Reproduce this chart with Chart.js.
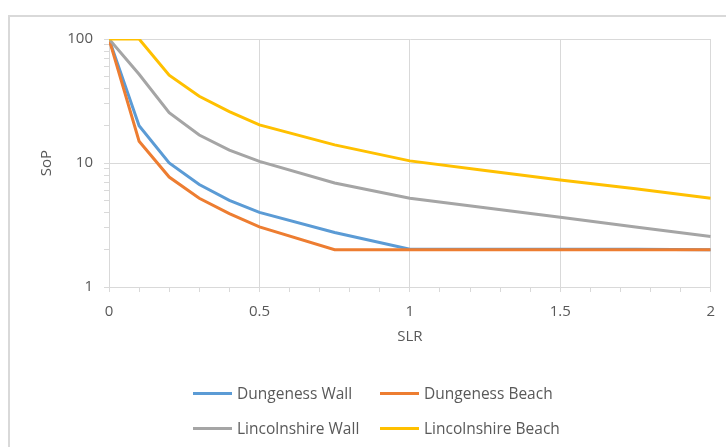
<!DOCTYPE html>
<html>
<head>
<meta charset="utf-8">
<script src="https://cdn.jsdelivr.net/npm/chart.js@4/dist/chart.umd.min.js"></script>
<style>
  body { margin: 0; background: #fff; font-family: "Open Sans", sans-serif; }
  #wrap { position: relative; width: 726px; height: 447px; overflow: hidden; }
  #frame { position: absolute; left: 8px; top: 15px; width: 740px; height: 460px; border: 2px solid #d9d9d9; box-sizing: border-box; }
  #chart { position: absolute; left: 0; top: 0; }
  #legend { position: absolute; left: 0; top: 0; width: 726px; height: 447px; pointer-events: none; }
  .item { position: absolute; display: flex; align-items: center; font-size: 15.5px; color: #595959; white-space: nowrap; }
  .item span.sw { display: inline-block; width: 39px; height: 3px; margin-right: 5px; }
</style>
</head>
<body>
<div id="wrap">
  <div id="frame"></div>
  <canvas id="chart" width="726" height="447"></canvas>
  <div id="legend"></div>
</div>
<script>
// SLR values (x)
const slr = [0, 0.1, 0.2, 0.3, 0.4, 0.5, 0.75, 1, 1.25, 1.5, 1.75, 2];

// SoP series (log scale)
const dungenessWall = [100, 20, 10, 6.7, 5, 4, 2.75, 2.02, 2.02, 2.02, 2.02, 2];
const dungenessBeach = [100, 15, 7.7, 5.2, 3.9, 3.05, 2, 2, 2, 2, 2, 2];
const lincolnshireWall = [100, 52, 25.5, 16.8, 12.7, 10.3, 6.9, 5.2, 4.35, 3.65, 3.05, 2.55];
const lincolnshireBeach = [100, 100, 51, 34.5, 26, 20.3, 14, 10.4, 8.7, 7.3, 6.2, 5.2];

const seriesNames = ['Dungeness Wall', 'Dungeness Beach', 'Lincolnshire Wall', 'Lincolnshire Beach'];
const seriesColors = ['#5b9bd5', '#ed7d31', '#a5a5a5', '#ffc000'];
const seriesValues = [dungenessWall, dungenessBeach, lincolnshireWall, lincolnshireBeach];

const yMajorTicks = [1, 10, 100];
const xMajorTicks = [0, 0.5, 1, 1.5, 2];

const gridColor = '#d9d9d9';
const textColor = '#595959';

const isMajorX = v => xMajorTicks.some(t => Math.abs(t - v) < 1e-6);
const isMajorY = v => yMajorTicks.some(t => Math.abs(t - v) < 1e-6);

// later series drawn on top, like Excel
const datasets = seriesNames.map((name, i) => ({
  label: name,
  data: slr.map((x, j) => ({ x, y: seriesValues[i][j] })),
  borderColor: seriesColors[i],
  backgroundColor: seriesColors[i],
  borderWidth: 3,
  pointRadius: 0,
  tension: 0,
  showLine: true,
  fill: false,
  order: seriesNames.length - i
}));

const chart = new Chart(document.getElementById('chart'), {
  type: 'scatter',
  data: { datasets },
  options: {
    responsive: false,
    animation: false,
    layout: { padding: { left: 0, right: 14, top: 39, bottom: 95 } },
    plugins: {
      legend: { display: false },
      tooltip: { enabled: false }
    },
    scales: {
      x: {
        type: 'linear',
        min: 0,
        max: 2,
        afterFit: s => { s.height = 447 - 287 - 95; },
        afterBuildTicks: s => {
          s.ticks = [];
          for (let k = 0; k <= 20; k++) s.ticks.push({ value: k / 10 });
        },
        ticks: {
          autoSkip: false,
          maxRotation: 0,
          color: textColor,
          font: { family: 'Open Sans', size: 15 },
          padding: 11,
          callback: v => (isMajorX(v) ? String(Math.round(v * 10) / 10) : '')
        },
        grid: {
          color: ctx => (ctx.tick && isMajorX(ctx.tick.value) ? gridColor : 'rgba(0,0,0,0)'),
          tickColor: gridColor,
          tickLength: 5,
          lineWidth: 1
        },
        border: { color: gridColor, width: 1 },
        title: {
          display: true,
          text: 'SLR',
          color: textColor,
          font: { family: 'Open Sans', size: 15 },
          padding: { top: 4, bottom: 6 }
        }
      },
      y: {
        type: 'logarithmic',
        min: 1,
        max: 100,
        afterFit: s => { s.width = 109; },
        afterBuildTicks: s => {
          s.ticks = [];
          for (let d = 1; d <= 10; d *= 10) {
            for (let m = 1; m < 10; m++) s.ticks.push({ value: d * m });
          }
          s.ticks.push({ value: 100 });
        },
        ticks: {
          autoSkip: false,
          color: textColor,
          font: { family: 'Open Sans', size: 15 },
          padding: 11,
          callback: v => (isMajorY(v) ? String(v) : '')
        },
        grid: {
          color: ctx => (ctx.tick && isMajorY(ctx.tick.value) ? gridColor : 'rgba(0,0,0,0)'),
          tickColor: gridColor,
          tickLength: 5,
          lineWidth: 1
        },
        border: { color: gridColor, width: 1 },
        title: {
          display: true,
          text: 'SoP',
          color: textColor,
          font: { family: 'Open Sans', size: 15 },
          padding: { top: 38, bottom: 0 }
        }
      }
    }
  }
});

// legend in two aligned columns, as in the reference
const legendEl = document.getElementById('legend');
const colX = [193, 380];
const rowY = [382, 417];
chart.data.datasets.forEach((ds, i) => {
  const item = document.createElement('div');
  item.className = 'item';
  item.style.left = colX[i % 2] + 'px';
  item.style.top = rowY[Math.floor(i / 2)] + 'px';
  const sw = document.createElement('span');
  sw.className = 'sw';
  sw.style.background = ds.borderColor;
  const txt = document.createElement('span');
  txt.textContent = ds.label;
  item.appendChild(sw);
  item.appendChild(txt);
  legendEl.appendChild(item);
});
</script>
</body>
</html>
